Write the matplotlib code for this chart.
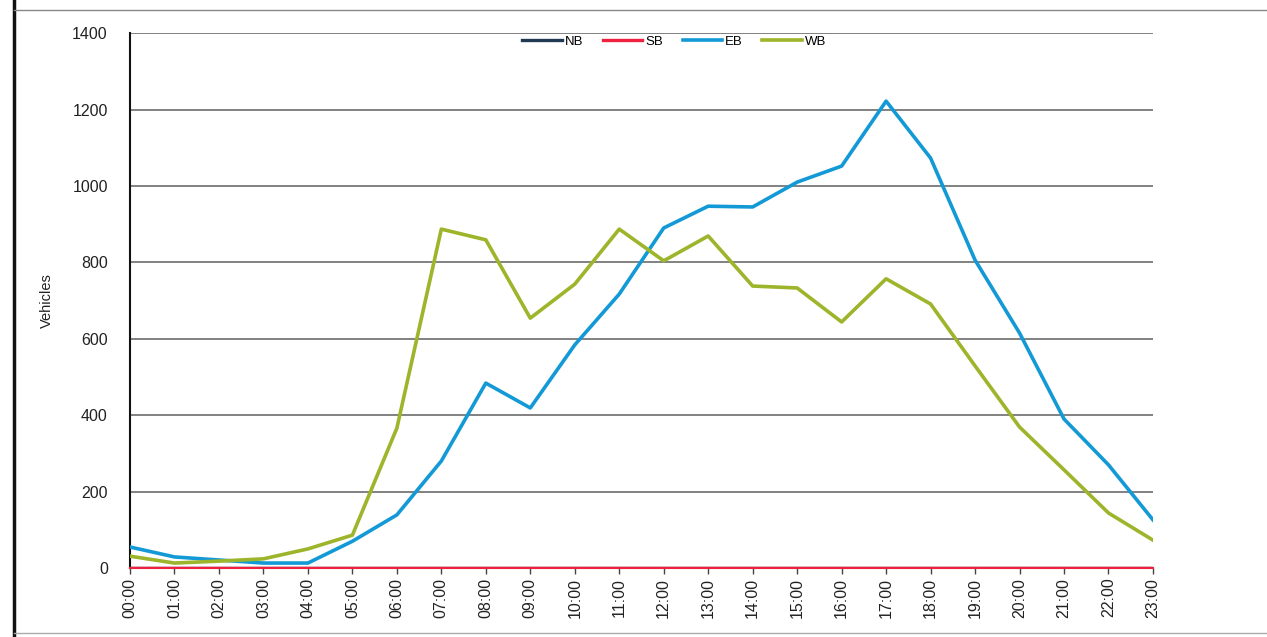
import matplotlib
matplotlib.use("Agg")
import matplotlib.pyplot as plt
from matplotlib.lines import Line2D

hours = [f"{h:02d}:00" for h in range(24)]
nb = [0] * 24
sb = [0] * 24
eb = [55, 29, 21, 13, 13, 70, 139, 280, 484, 419, 584, 717, 890, 947, 945, 1010,
      1052, 1222, 1073, 806, 615, 390, 270, 126]
wb = [31, 13, 18, 24, 50, 86, 366, 887, 859, 654, 743, 887, 804, 869, 738, 733,
      644, 757, 691, 529, 369, 257, 144, 73]
yticks = [0, 200, 400, 600, 800, 1000, 1200, 1400]

plt.rcParams['font.family'] = ['Liberation Sans', 'DejaVu Sans']

fig = plt.figure(figsize=(12.67, 6.37), dpi=100)
ax = fig.add_axes([0.1026, 0.1083, 0.8074, 0.8397])

x = list(range(len(hours)))
ax.plot(x, nb, color='#1f3a52', lw=2.4, label='NB', zorder=3)
ax.plot(x, sb, color='#f0213f', lw=2.4, label='SB', zorder=4)
ax.plot(x, eb, color='#139ad6', lw=2.6, label='EB', zorder=5)
ax.plot(x, wb, color='#9cb52a', lw=2.6, label='WB', zorder=5)

ax.set_xlim(0, 23)
ax.set_ylim(0, 1400)
ax.set_yticks(yticks)
ax.set_yticklabels([str(v) for v in yticks], fontsize=11.5, color='#222222')
ax.set_xticks(x)
ax.set_xticklabels(hours, rotation=90, fontsize=11.5, color='#222222')
ax.tick_params(axis='y', length=0, pad=16)
ax.tick_params(axis='x', length=4, width=1, pad=3, color='#444444')
ax.grid(axis='y', color='#777777', lw=1.3, zorder=1)
for s in ['top', 'right']:
    ax.spines[s].set_visible(False)
ax.spines['left'].set_color('#111111')
ax.spines['left'].set_linewidth(1.5)
ax.spines['bottom'].set_color('#f0213f')
ax.spines['bottom'].set_linewidth(1.5)
ax.set_ylabel('Vehicles', fontsize=10.5, labelpad=13, color='#222222')

leg = ax.legend(loc='upper center', bbox_to_anchor=(0.532, 1.018), ncol=4, frameon=False,
                fontsize=9.5, handlelength=3.0, handletextpad=0.2, columnspacing=1.5)

# scan frame
fig.add_artist(Line2D([0.011, 0.011], [0.0, 1.0], color='#111111', lw=2.5, transform=fig.transFigure))
fig.add_artist(Line2D([0.011, 1.0], [0.984, 0.984], color='#888888', lw=1.0, transform=fig.transFigure))
fig.add_artist(Line2D([0.011, 1.0], [0.006, 0.006], color='#aaaaaa', lw=1.0, transform=fig.transFigure))

fig.savefig('out.png', dpi=100)
